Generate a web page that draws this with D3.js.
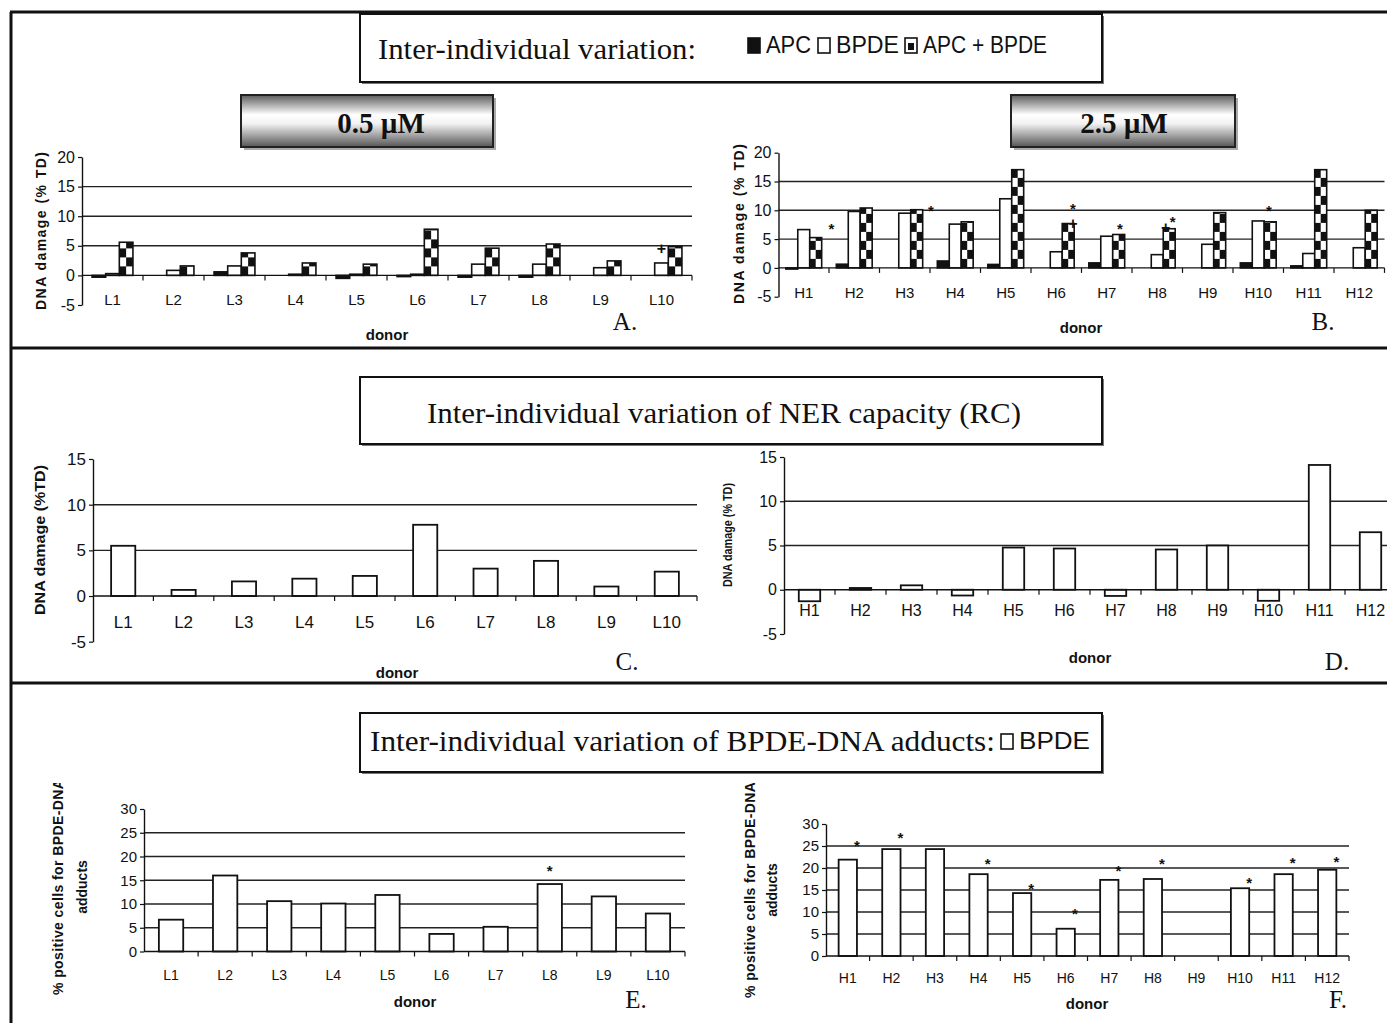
<!DOCTYPE html>
<html>
<head>
<meta charset="utf-8">
<script src="https://d3js.org/d3.v7.min.js"></script>
<style>
body { margin: 0; background: #fff; }
text { font-family: "Liberation Sans", Arial, sans-serif; fill: #111; }
.serif { font-family: "Liberation Serif", "Times New Roman", serif; }
</style>
</head>
<body>
<div id="viz"></div>
<script type="text/javascript">
// ---- data ----
var lowDonors  = ["L1", "L2", "L3", "L4", "L5", "L6", "L7", "L8", "L9", "L10"];
var highDonors = ["H1", "H2", "H3", "H4", "H5", "H6", "H7", "H8", "H9", "H10", "H11", "H12"];

// A: 0.5 uM, DNA damage (% TD)
var apcLow   = [-0.3, 0, 0.6, 0, -0.5, -0.2, -0.3, -0.3, 0, 0];
var bpdeLow  = [0.3, 0.85, 1.6, 0.2, 0.2, 0.2, 1.9, 1.9, 1.3, 2.1];
var comboLow = [5.6, 1.6, 3.8, 2.1, 1.9, 7.8, 4.6, 5.3, 2.45, 4.85];

// B: 2.5 uM
var apcHigh   = [-0.2, 0.64, 0, 1.2, 0.6, 0, 0.87, 0, 0, 0.87, 0.35, 0];
var bpdeHigh  = [6.65, 9.8, 9.5, 7.6, 12.0, 2.8, 5.5, 2.3, 4.1, 8.15, 2.5, 3.5];
var comboHigh = [5.26, 10.4, 10.1, 8.0, 17.05, 7.7, 5.8, 6.8, 9.6, 8.0, 17.05, 10.0];

// C, D: NER capacity (RC)
var rcLow  = [5.5, 0.67, 1.6, 1.9, 2.2, 7.8, 3.0, 3.85, 1.04, 2.67];
var rcHigh = [-1.3, 0.2, 0.5, -0.65, 4.77, 4.66, -0.7, 4.55, 5.0, -1.25, 14.1, 6.5];

// E, F: % positive cells for BPDE-DNA adducts
var adductLow  = [6.7, 16.0, 10.6, 10.1, 11.9, 3.7, 5.2, 14.2, 11.6, 8.0];
var adductHigh = [21.9, 24.3, 24.3, 18.6, 14.3, 6.2, 17.3, 17.5, null, 15.4, 18.6, 19.6];

// significance marks: [donor, bar slot, level, symbol]
var marksLow  = [["L10", 1.5, 4.6, "+"]];
var marksHigh = [["H2", -0.4, 7.4, "*"], ["H3", 3.7, 10.5, "*"], ["H6", 2.9, 10.9, "*"], ["H6", 2.9, 7.8, "+"],
                 ["H7", 2.6, 7.4, "*"], ["H8", 2.8, 8.6, "*"], ["H8", 2.2, 7.0, "+"], ["H10", 2.4, 10.5, "*"]];
var starAdductLow  = [null, null, null, null, null, null, null, 17.6, null, null];
var starAdductHigh = [25.9, 27.7, null, 21.7, 16.1, 10.3, 20.2, 21.7, null, 17.5, 21.9, 22.2];

var legendItems = [["APC", "black"], ["BPDE", "white"], ["APC + BPDE", "check"]];

// ---- drawing ----
var W = 1387, H = 1023;
var svg = d3.select("#viz").append("svg").attr("width", W).attr("height", H);
var defs = svg.append("defs");

var grad = defs.append("linearGradient").attr("id", "metal")
  .attr("x1", 0).attr("y1", 0).attr("x2", 0).attr("y2", 1);
[[0, "#5c5c5c"], [0.38, "#ffffff"], [0.55, "#f2f2f2"], [1, "#555555"]].forEach(function(s) {
  grad.append("stop").attr("offset", s[0]).attr("stop-color", s[1]);
});
defs.append("clipPath").attr("id", "lowerClip").append("rect")
  .attr("x", 12).attr("y", 783).attr("width", W).attr("height", 240);

// frame
var frame = [[10, 12, W, 12], [11, 12, 11, H], [10, 348, W, 348], [10, 683, W, 683]];
svg.selectAll(".frame").data(frame).enter().append("line")
  .attr("x1", function(d) { return d[0]; }).attr("y1", function(d) { return d[1]; })
  .attr("x2", function(d) { return d[2]; }).attr("y2", function(d) { return d[3]; })
  .attr("stroke", "#111").attr("stroke-width", 3);

function titleBox(x, y, w, h) {
  svg.append("rect").attr("x", x + 2).attr("y", y + 2).attr("width", w).attr("height", h).attr("fill", "#777");
  svg.append("rect").attr("x", x).attr("y", y).attr("width", w).attr("height", h)
    .attr("fill", "#fff").attr("stroke", "#111").attr("stroke-width", 2);
}
function metalBox(x, y, w, h, label, cx) {
  svg.append("rect").attr("x", x + 3).attr("y", y + 3).attr("width", w).attr("height", h).attr("fill", "#aaa");
  svg.append("rect").attr("x", x).attr("y", y).attr("width", w).attr("height", h)
    .attr("fill", "url(#metal)").attr("stroke", "#222").attr("stroke-width", 2);
  svg.append("text").attr("class", "serif").attr("x", cx).attr("y", y + 38)
    .attr("text-anchor", "middle").attr("font-size", 29).attr("font-weight", "bold").text(label);
}
function swatch(x, y, kind) {
  svg.append("rect").attr("x", x).attr("y", y).attr("width", 12).attr("height", 15)
    .attr("fill", kind == "black" ? "#111" : "#fff").attr("stroke", "#111").attr("stroke-width", 1.6);
  if (kind == "check") {
    svg.append("rect").attr("x", x + 3).attr("y", y + 5).attr("width", 6).attr("height", 7).attr("fill", "#111");
  }
}

// top title with legend
titleBox(360, 14, 742, 68);
svg.append("text").attr("class", "serif").attr("x", 378).attr("y", 59).attr("font-size", 29)
  .attr("textLength", 318).attr("lengthAdjust", "spacingAndGlyphs").text("Inter-individual variation:");
var legX = [748, 818, 905], legW = [45, 63, 124];
legendItems.forEach(function(d, i) {
  swatch(legX[i], 38, d[1]);
  svg.append("text").attr("x", legX[i] + 18).attr("y", 53).attr("font-size", 23)
    .attr("textLength", legW[i]).attr("lengthAdjust", "spacingAndGlyphs").text(d[0]);
});

metalBox(241, 95, 252, 52, "0.5 \u00b5M", 381);
metalBox(1011, 95, 224, 52, "2.5 \u00b5M", 1124);

titleBox(360, 377, 742, 67);
svg.append("text").attr("class", "serif").attr("x", 427).attr("y", 423).attr("font-size", 30)
  .attr("textLength", 594).attr("lengthAdjust", "spacingAndGlyphs")
  .text("Inter-individual variation of NER capacity (RC)");

titleBox(360, 713, 742, 59);
svg.append("text").attr("class", "serif").attr("x", 370).attr("y", 751).attr("font-size", 29)
  .attr("textLength", 625).attr("lengthAdjust", "spacingAndGlyphs")
  .text("Inter-individual variation of BPDE-DNA adducts:");
swatch(1001, 734, "white");
svg.append("text").attr("x", 1019).attr("y", 749).attr("font-size", 23)
  .attr("textLength", 71).attr("lengthAdjust", "spacingAndGlyphs").text("BPDE");

function drawPanel(o) {
  var g = svg.append("g");
  var x = d3.scaleBand().domain(o.cats).range([o.x0, o.x1]);
  var y = d3.scaleLinear().domain(o.domain).range([o.yBot, o.yTop]);
  var bw = x.bandwidth();
  var gw = bw * o.groupFrac, off = (bw - gw) / 2;
  var inner = d3.scaleBand().domain(d3.range(o.series.length)).range([0, gw]);
  var sw = inner.bandwidth();

  g.selectAll(".grid").data(o.grid).enter().append("line")
    .attr("x1", o.x0).attr("x2", o.x1)
    .attr("y1", function(d) { return y(d); }).attr("y2", function(d) { return y(d); })
    .attr("stroke", "#222").attr("stroke-width", 1.4);

  o.series.forEach(function(s, si) {
    var rows = o.cats.map(function(c, i) { return { c: c, v: s.vals[i] }; })
      .filter(function(d) { return d.v != null && d.v !== 0; });
    var bx = function(d) { return x(d.c) + off + inner(si); };
    var by = function(d) { return Math.min(y(d.v), y(0)); };
    var bh = function(d) { return Math.abs(y(d.v) - y(0)); };
    g.selectAll(".s" + si).data(rows).enter().append("rect")
      .attr("x", bx).attr("y", by).attr("width", sw).attr("height", bh)
      .attr("fill", s.kind == "black" ? "#111" : "#fff");
    if (s.kind == "check") {
      rows.forEach(function(d) {
        var h = bh(d), n = Math.ceil(h / o.cellH), cw = sw / 2;
        for (var r = 0; r < n; r++) {
          for (var c = 0; c < 2; c++) {
            if ((r + c) % 2 == 0) {
              var ch = Math.min(o.cellH, h - r * o.cellH);
              g.append("rect").attr("x", bx(d) + c * cw).attr("y", y(0) - r * o.cellH - ch)
                .attr("width", cw).attr("height", ch).attr("fill", "#111");
            }
          }
        }
      });
    }
    g.selectAll(".o" + si).data(rows).enter().append("rect")
      .attr("x", bx).attr("y", by).attr("width", sw).attr("height", bh)
      .attr("fill", "none").attr("stroke", "#111").attr("stroke-width", o.barStroke);
  });

  // y axis
  var ya = g.append("g").attr("transform", "translate(" + o.x0 + ",0)")
    .call(d3.axisLeft(y).tickValues(o.yTicks).tickSize(4).tickSizeOuter(0).tickPadding(3)
      .tickFormat(function(d) { return String(d); }));
  ya.select(".domain").attr("stroke", "#111").attr("stroke-width", 1.4);
  ya.selectAll(".tick line").attr("stroke", "#111").attr("stroke-width", 1.2);
  ya.selectAll(".tick text").attr("font-size", o.yFont).attr("font-family", o.font).attr("fill", "#222");

  // x axis at zero
  g.append("line").attr("x1", o.x0).attr("x2", o.x1).attr("y1", y(0)).attr("y2", y(0))
    .attr("stroke", "#111").attr("stroke-width", 1.4);
  var bounds = o.cats.slice(1).map(function(c) { return x(c); }).concat([o.x1]);
  g.selectAll(".xt").data(bounds).enter().append("line")
    .attr("x1", function(d) { return d; }).attr("x2", function(d) { return d; })
    .attr("y1", y(0)).attr("y2", y(0) + 5).attr("stroke", "#111").attr("stroke-width", 1.2);
  g.selectAll(".xl").data(o.cats).enter().append("text")
    .attr("x", function(d) { return x(d) + bw / 2; }).attr("y", y(0) + o.labelDy)
    .attr("text-anchor", "middle").attr("font-size", o.xFont).attr("font-family", o.font)
    .attr("fill", "#222").text(function(d) { return d; });

  // marks
  g.selectAll(".mk").data(o.marks).enter().append("text")
    .attr("x", function(d) { return x(d[0]) + off + sw * d[1]; })
    .attr("y", function(d) { return y(d[2]); })
    .attr("dy", function(d) { return d[3] == "*" ? "0.57em" : "0.36em"; })
    .attr("text-anchor", "middle").attr("font-size", function(d) { return d[3] == "*" ? 15 : 16; })
    .attr("font-weight", "bold").text(function(d) { return d[3]; });

  // titles
  g.append("text").attr("x", o.donor[0]).attr("y", o.donor[1]).attr("text-anchor", "middle")
    .attr("font-size", 15).attr("font-weight", "bold").text("donor");
  g.append("text").attr("class", "serif").attr("x", o.letter[0]).attr("y", o.letter[1])
    .attr("text-anchor", "middle").attr("font-size", 25).text(o.letterText);
  var yt = (o.clip ? g.append("g").attr("clip-path", "url(#lowerClip)") : g);
  o.yTitle.forEach(function(t) {
    var tx = yt.append("text").attr("transform", "translate(" + t.x + "," + t.y + ") rotate(-90)")
      .attr("text-anchor", "middle").attr("font-size", t.size).attr("font-weight", "bold").text(t.text);
    if (t.len) tx.attr("textLength", t.len).attr("lengthAdjust", t.adjust || "spacing");
  });
}

function marksFrom(vals, cats, slot) {
  return vals.map(function(v, i) { return [cats[i], slot, v, "*"]; })
    .filter(function(d) { return d[2] != null; });
}

var narrow = "'Liberation Sans Narrow', 'Liberation Sans', Arial, sans-serif";
var plain = "'Liberation Sans', Arial, sans-serif";

drawPanel({
  cats: lowDonors, x0: 82, x1: 692, domain: [-5, 20], yBot: 305, yTop: 157,
  yTicks: [-5, 0, 5, 10, 15, 20], grid: [5, 10, 15], groupFrac: 0.67, cellH: 9, barStroke: 1.6,
  series: [{ vals: apcLow, kind: "black" }, { vals: bpdeLow, kind: "white" }, { vals: comboLow, kind: "check" }],
  yFont: 16, xFont: 15, font: narrow, labelDy: 30, marks: marksLow,
  donor: [387, 340], letter: [625, 330], letterText: "A.",
  yTitle: [{ x: 46, y: 231, text: "DNA damage (% TD)", size: 14, len: 158 }]
});
drawPanel({
  cats: highDonors, x0: 778.5, x1: 1384.5, domain: [-5, 20], yBot: 296.7, yTop: 152.7,
  yTicks: [-5, 0, 5, 10, 15, 20], grid: [5, 10, 15], groupFrac: 0.71, cellH: 9, barStroke: 1.6,
  series: [{ vals: apcHigh, kind: "black" }, { vals: bpdeHigh, kind: "white" }, { vals: comboHigh, kind: "check" }],
  yFont: 16, xFont: 15, font: narrow, labelDy: 30.5, marks: marksHigh,
  donor: [1081, 333], letter: [1323, 330], letterText: "B.",
  yTitle: [{ x: 744, y: 224, text: "DNA damage (% TD)", size: 14, len: 160 }]
});
drawPanel({
  cats: lowDonors, x0: 93, x1: 697, domain: [-5, 15], yBot: 641.7, yTop: 459,
  yTicks: [-5, 0, 5, 10, 15], grid: [5, 10], groupFrac: 0.4, cellH: 9, barStroke: 1.8,
  series: [{ vals: rcLow, kind: "white" }],
  yFont: 17, xFont: 17, font: plain, labelDy: 32, marks: [],
  donor: [397, 678], letter: [627, 670], letterText: "C.",
  yTitle: [{ x: 45, y: 540, text: "DNA damage (%TD)", size: 14, len: 150, adjust: "spacingAndGlyphs" }]
});
drawPanel({
  cats: highDonors, x0: 784, x1: 1396, domain: [-5, 15], yBot: 634, yTop: 457,
  yTicks: [-5, 0, 5, 10, 15], grid: [5, 10], groupFrac: 0.42, cellH: 9, barStroke: 1.8,
  series: [{ vals: rcHigh, kind: "white" }],
  yFont: 16, xFont: 16, font: plain, labelDy: 26, marks: [],
  donor: [1090, 663], letter: [1337, 670], letterText: "D.",
  yTitle: [{ x: 732, y: 535, text: "DNA damage (% TD)", size: 12, len: 104, adjust: "spacingAndGlyphs" }]
});
drawPanel({
  cats: lowDonors, x0: 144, x1: 685, domain: [0, 30], yBot: 951.5, yTop: 809,
  yTicks: [0, 5, 10, 15, 20, 25, 30], grid: [5, 10, 15, 20, 25], groupFrac: 0.45, cellH: 9, barStroke: 1.8,
  series: [{ vals: adductLow, kind: "white" }],
  yFont: 15, xFont: 14, font: plain, labelDy: 28, marks: marksFrom(starAdductLow, lowDonors, 0.5),
  donor: [415, 1007], letter: [636, 1008], letterText: "E.", clip: true,
  yTitle: [{ x: 63, y: 887, text: "% positive cells for BPDE-DNA", size: 14, len: 216 },
           { x: 87, y: 887, text: "adducts", size: 14 }]
});
drawPanel({
  cats: highDonors, x0: 826, x1: 1349, domain: [0, 30], yBot: 956, yTop: 824,
  yTicks: [0, 5, 10, 15, 20, 25, 30], grid: [5, 10, 15, 20, 25], groupFrac: 0.42, cellH: 9, barStroke: 1.8,
  series: [{ vals: adductHigh, kind: "white" }],
  yFont: 15, xFont: 14, font: plain, labelDy: 27, marks: marksFrom(starAdductHigh, highDonors, 1),
  donor: [1087, 1009], letter: [1338, 1008], letterText: "F.", clip: true,
  yTitle: [{ x: 755, y: 890, text: "% positive cells for BPDE-DNA", size: 14, len: 216 },
           { x: 777, y: 890, text: "adducts", size: 14 }]
});
</script>
</body>
</html>
